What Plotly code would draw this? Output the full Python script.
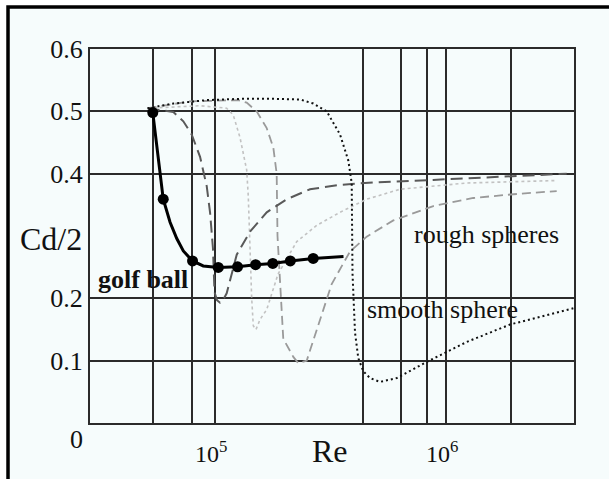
import plotly.graph_objects as go

# ---------------- data ----------------
label_re = [100000, 995000]
label_text = ["10<sup>5</sup>", "10<sup>6</sup>"]
grid_re = [54000, 79200, 436700, 633500, 822900, 1892000]
y_ticks = [0.1, 0.2, 0.4, 0.5, 0.6]
y_text = ["0.1", "0.2", "0.4", "0.5", "0.6"]

golf_line_re = [53800, 59700, 63900, 68300, 72900, 79900, 88900, 103200, 125000,
                149600, 177500, 211300, 265300, 358600]
golf_line_cd = [0.498, 0.359, 0.322, 0.296, 0.276, 0.260, 0.252, 0.2495, 0.2505,
                0.254, 0.256, 0.260, 0.264, 0.267]
golf_pts_re = [53800, 59700, 79900, 103200, 125000, 149600, 177500, 211300, 265300]
golf_pts_cd = [0.498, 0.359, 0.260, 0.2495, 0.2505, 0.254, 0.256, 0.260, 0.264]

smooth_re = [51100, 66000, 92000, 128100, 184500, 232700, 265600, 303400, 346300,
             376200, 389100, 391400, 392200, 402100, 415500, 436700, 466800, 515600,
             608800, 820400, 1222000, 1879000, 3527000]
smooth_cd = [0.505, 0.5125, 0.518, 0.520, 0.520, 0.519, 0.5125, 0.500, 0.463,
             0.421, 0.385, 0.317, 0.240, 0.145, 0.104, 0.083, 0.072, 0.066,
             0.072, 0.098, 0.130, 0.158, 0.184]

rough1_re = [51100, 66000, 72900, 79200, 86100, 92000, 95100, 97900, 99400, 101900,
             105000, 108500, 112200, 124000, 141500, 167100, 203900, 257000, 346300,
             482500, 873700, 1701000, 3302000]
rough1_cd = [0.505, 0.499, 0.484, 0.463, 0.427, 0.380, 0.338, 0.280, 0.210, 0.197,
             0.193, 0.198, 0.208, 0.270, 0.307, 0.338, 0.359, 0.375, 0.382,
             0.386, 0.390, 0.395, 0.400]

rough2_re = [51100, 86100, 112200, 119800, 128100, 136900, 139100, 141500, 143900,
             146200, 150200, 156300, 167100, 187000, 225200, 274700, 346300, 451700,
             629100, 1222000, 2989000]
rough2_cd = [0.505, 0.509, 0.505, 0.494, 0.458, 0.406, 0.364, 0.280, 0.200,
             0.156, 0.150, 0.166, 0.182, 0.239, 0.291, 0.317, 0.338, 0.359,
             0.375, 0.385, 0.389]

rough3_re = [51100, 77900, 125900, 136900, 151200, 167100, 178400, 184500, 186000,
             190700, 197000, 217700, 228800, 248700, 274700, 318900, 382500, 451700,
             588600, 876200, 1304000, 1942000, 2989000]
rough3_cd = [0.505, 0.516, 0.518, 0.514, 0.500, 0.473, 0.442, 0.400, 0.300,
             0.220, 0.135, 0.106, 0.096, 0.100, 0.150, 0.223, 0.275, 0.299,
             0.325, 0.348, 0.361, 0.367, 0.372]

# ---------------- figure ----------------
SERIF = "Liberation Serif, Times New Roman, serif"
TINT = "#f6fcfc"
GRID = "#2b2b2b"

fig = go.Figure()

fig.add_trace(go.Scatter(x=rough2_re, y=rough2_cd, mode="lines",
                         line=dict(color="#c2c2c2", width=1.6, dash="3px,3px"),
                         hoverinfo="skip"))
fig.add_trace(go.Scatter(x=rough3_re, y=rough3_cd, mode="lines",
                         line=dict(color="#9a9a9a", width=1.8, dash="9px,5px"),
                         hoverinfo="skip"))
fig.add_trace(go.Scatter(x=rough1_re, y=rough1_cd, mode="lines",
                         line=dict(color="#595959", width=2, dash="12px,6px"),
                         hoverinfo="skip"))
fig.add_trace(go.Scatter(x=smooth_re, y=smooth_cd, mode="lines",
                         line=dict(color="#111111", width=2, dash="2px,3px"),
                         hoverinfo="skip"))
fig.add_trace(go.Scatter(x=golf_line_re, y=golf_line_cd, mode="lines",
                         line=dict(color="#000000", width=3),
                         hoverinfo="skip"))
fig.add_trace(go.Scatter(x=golf_pts_re, y=golf_pts_cd, mode="markers",
                         marker=dict(color="#000000", size=11),
                         hoverinfo="skip"))

fig.update_xaxes(type="log", range=[4.4596, 6.5503],
                 tickmode="array", tickvals=label_re, ticktext=label_text,
                 showgrid=True, gridcolor=GRID, gridwidth=1.5,
                 minor=dict(tickmode="array", tickvals=grid_re, showgrid=True,
                            gridcolor=GRID, gridwidth=1.5, ticks=""),
                 showline=True, mirror=True, linecolor=GRID, linewidth=2,
                 zeroline=False, ticks="", ticklabelstandoff=8, ticklabelshift=-4,
                 tickfont=dict(family=SERIF, size=24, color="#111111"))
fig.update_yaxes(range=[0, 0.6],
                 tickmode="array", tickvals=y_ticks, ticktext=y_text,
                 showgrid=True, gridcolor=GRID, gridwidth=2,
                 showline=True, mirror=True, linecolor=GRID, linewidth=2,
                 zeroline=False, ticks="", ticklabelstandoff=0,
                 tickfont=dict(family=SERIF, size=26, color="#111111"))

annots = [
    dict(text="0", x=-0.0289, y=-0.045, size=26, bold=False),
    dict(text="Cd/2", x=-0.0816, y=0.492, size=32, bold=False),
    dict(text="Re", x=0.4959, y=-0.076, size=32, bold=False),
    dict(text="golf ball", x=0.1095, y=0.385, size=26, bold=True),
    dict(text="rough spheres", x=0.8196, y=0.505, size=26, bold=False),
    dict(text="smooth sphere", x=0.7283, y=0.303, size=26, bold=False),
]
for a in annots:
    fig.add_annotation(text=("<b>%s</b>" % a["text"]) if a["bold"] else a["text"],
                       xref="paper", yref="paper", x=a["x"], y=a["y"],
                       xanchor="center", yanchor="middle", showarrow=False,
                       font=dict(family=SERIF, size=a["size"], color="#111111"))

# outer frame of the picture (black left/top border on a tinted page)
fig.add_shape(type="rect", xref="paper", yref="paper",
              x0=-0.1694, x1=1.10, y0=-0.16, y1=1.112,
              line=dict(color="#000000", width=3.5), fillcolor=TINT, layer="below")

fig.update_layout(width=609, height=479,
                  margin=dict(l=90, r=35, t=49, b=46),
                  paper_bgcolor="#ffffff", plot_bgcolor=TINT,
                  showlegend=False)

fig.write_html("out.html")
